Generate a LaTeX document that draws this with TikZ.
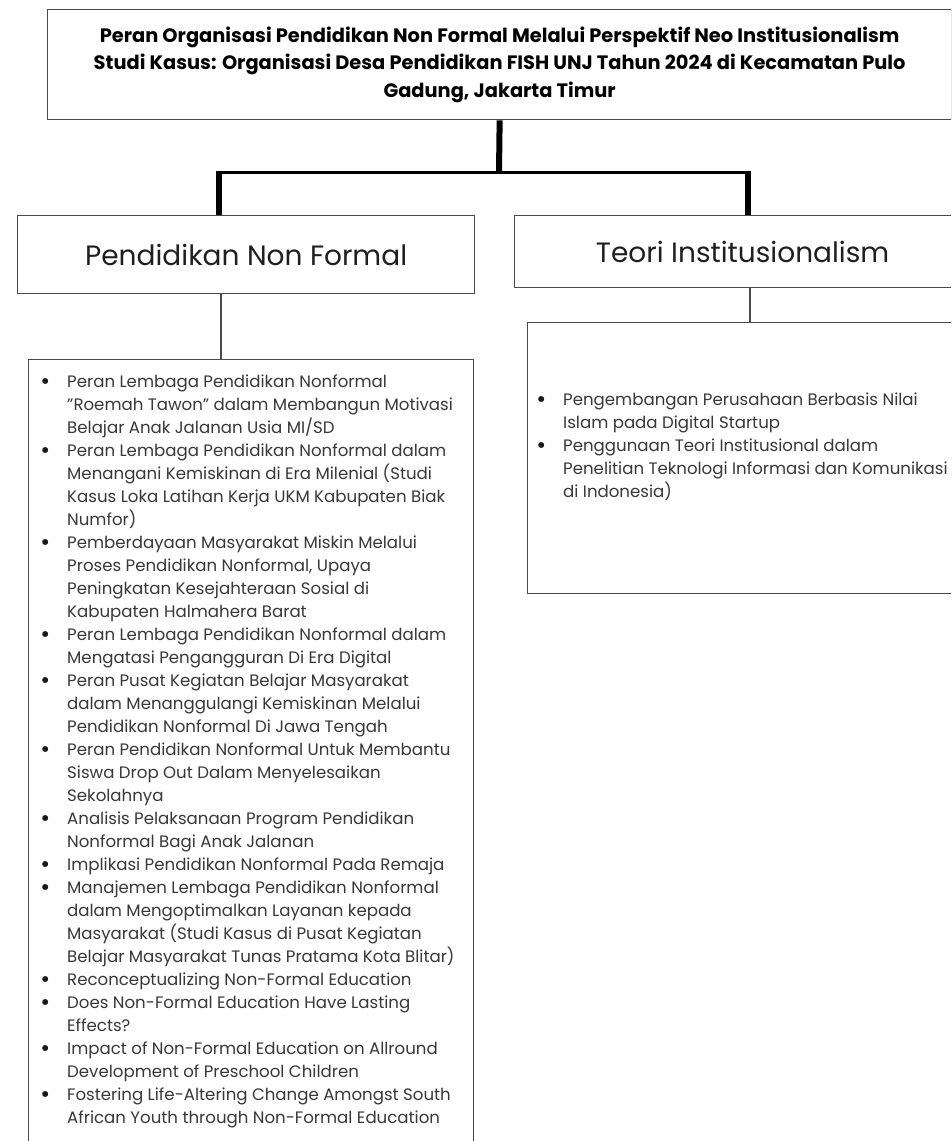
\documentclass[tikz,border=0pt]{standalone}
\usepackage{fontspec}
\setmainfont{Poppins}
\definecolor{bodytext}{HTML}{383838}
\definecolor{boxgray}{HTML}{4A4A4A}
\newcommand{\B}{\llap{\makebox[12pt][c]{\fontsize{24}{0}\selectfont\color{black!90}\raisebox{-1.8pt}{\textbullet}}\hspace{16pt}}}
\begin{document}
\begin{tikzpicture}[x=1pt,y=-1pt,
  box/.style={draw=boxgray, line width=1.3pt, inner sep=0pt, anchor=north west},
  thickconn/.style={line width=6pt, black},
  bar/.style={line width=3pt, black},
  thinconn/.style={draw=boxgray, line width=1.5pt},
  body/.style={inner sep=0pt, anchor=north west, align=left, text=bodytext, font=\fontsize{16.6}{23}\selectfont}
]
\clip (0,0) rectangle (951,1141);
\fill[white] (0,0) rectangle (951,1141);

\node[box, minimum width=904pt, minimum height=110pt, align=center,
      font=\bfseries\fontsize{19.4}{27.5}\selectfont] (title) at (47,9)
  {Peran Organisasi Pendidikan Non Formal Melalui Perspektif Neo Institusionalism\\
   Studi Kasus: Organisasi Desa Pendidikan FISH UNJ Tahun 2024 di Kecamatan Pulo\\
   Gadung, Jakarta Timur};

\node[box, minimum width=457pt, minimum height=78pt, text=black!88,
      font=\fontsize{28}{32}\selectfont] (pnf) at (17,215) {Pendidikan Non Formal};
\node[box, minimum width=456pt, minimum height=72pt, text=black!88,
      font=\fontsize{28}{32}\selectfont] (teori) at (514,215) {Teori Institusionalism};

\node[box, minimum width=445pt, minimum height=820pt] (listL) at (28,359) {};
\node[box, minimum width=460pt, minimum height=271pt] (listR) at (527,322) {};

\node[body] (txtL) at (67,370) {\B\rule{0pt}{17pt}Peran Lembaga Pendidikan Nonformal\\
"Roemah Tawon" dalam Membangun Motivasi\\
Belajar Anak Jalanan Usia MI/SD\\
\B Peran Lembaga Pendidikan Nonformal dalam\\
Menangani Kemiskinan di Era Milenial (Studi\\
Kasus Loka Latihan Kerja UKM Kabupaten Biak\\
Numfor)\\
\B Pemberdayaan Masyarakat Miskin Melalui\\
Proses Pendidikan Nonformal, Upaya\\
Peningkatan Kesejahteraan Sosial di\\
Kabupaten Halmahera Barat\\
\B Peran Lembaga Pendidikan Nonformal dalam\\
Mengatasi Pengangguran Di Era Digital\\
\B Peran Pusat Kegiatan Belajar Masyarakat\\
dalam Menanggulangi Kemiskinan Melalui\\
Pendidikan Nonformal Di Jawa Tengah\\
\B Peran Pendidikan Nonformal Untuk Membantu\\
Siswa Drop Out Dalam Menyelesaikan\\
Sekolahnya\\
\B Analisis Pelaksanaan Program Pendidikan\\
Nonformal Bagi Anak Jalanan\\
\B Implikasi Pendidikan Nonformal Pada Remaja\\
\B Manajemen Lembaga Pendidikan Nonformal\\
dalam Mengoptimalkan Layanan kepada\\
Masyarakat (Studi Kasus di Pusat Kegiatan\\
Belajar Masyarakat Tunas Pratama Kota Blitar)\\
\B Reconceptualizing Non-Formal Education\\
\B Does Non-Formal Education Have Lasting\\
Effects?\\
\B Impact of Non-Formal Education on Allround\\
Development of Preschool Children\\
\B Fostering Life-Altering Change Amongst South\\
African Youth through Non-Formal Education};

\node[body] (txtR) at (563,388) {\B\rule{0pt}{17pt}Pengembangan Perusahaan Berbasis Nilai\\
Islam pada Digital Startup\\
\B Penggunaan Teori Institusional dalam\\
Penelitian Teknologi Informasi dan Komunikasi\\
di Indonesia)};

\coordinate (j) at (499,172);
\coordinate (jl) at (219,172);
\coordinate (jr) at (748,172);
\coordinate (cl) at (221,0);
\coordinate (cr) at (750,0);
\draw[thickconn] (title.south) -- (j);
\draw[bar] (jl) -- (jr);
\draw[thickconn] ([yshift=1.5pt]jl) -- (jl |- pnf.north);
\draw[thickconn] ([yshift=1.5pt]jr) -- (jr |- teori.north);
\draw[thinconn] (cl |- pnf.south) -- (cl |- listL.north);
\draw[thinconn] (cr |- teori.south) -- (cr |- listR.north);
\end{tikzpicture}
\end{document}
